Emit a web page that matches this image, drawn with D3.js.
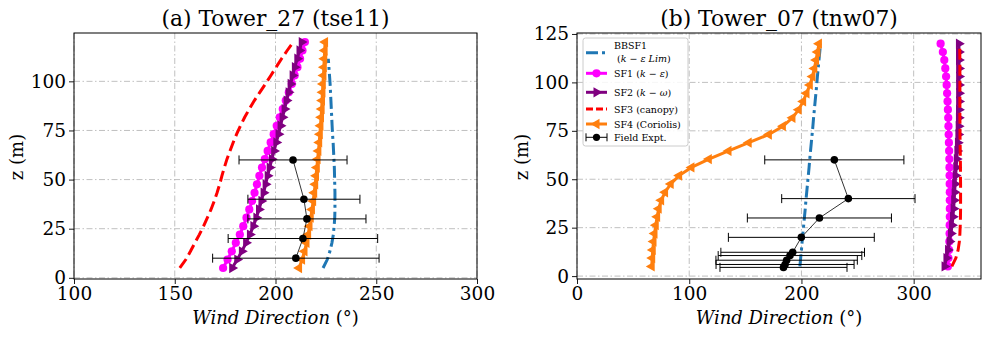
<!DOCTYPE html>
<html>
<head>
<meta charset="utf-8">
<script src="https://cdn.jsdelivr.net/npm/d3@7"></script>
<style>
body{margin:0;background:#fff}
svg text{font-family:"DejaVu Serif",serif !important;fill:#000}
</style>
</head>
<body>
<svg id="chart" width="990" height="337"></svg>
<script>
// heights of the model levels (m)
var zLevels = [5.0, 9.3, 13.5, 17.8, 22.0, 26.3, 30.6, 34.8, 39.1, 43.3, 47.6, 51.9, 56.1, 60.4,
  64.6, 68.9, 73.1, 77.4, 81.7, 85.9, 90.2, 94.4, 98.7, 103.0, 107.2, 111.5, 115.7, 120.0];

// (a) Tower_27 - wind direction (deg) per level
var aBBSF1 = [223.6, 225.7, 227.0, 228.0, 228.7, 229.1, 229.4, 229.5, 229.5, 229.5, 229.4, 229.3, 229.2, 229.0,
  228.8, 228.6, 228.3, 228.1, 227.9, 227.7, 227.5, 227.3, 227.1, 226.8, 226.5, 226.2];
var aSF1 = [174.0, 176.2, 178.3, 180.3, 182.3, 184.0, 185.6, 187.0, 188.4, 189.6, 190.8, 192.0, 193.3, 194.7,
  196.1, 197.6, 199.1, 200.6, 202.1, 203.6, 205.1, 206.6, 208.1, 209.5, 210.9, 212.2, 213.4, 214.6];
var aSF2 = [178.5, 181.0, 183.3, 185.4, 187.3, 189.0, 190.5, 191.8, 193.0, 194.1, 195.1, 196.1, 197.1, 198.2,
  199.3, 200.4, 201.5, 202.5, 203.5, 204.5, 205.5, 206.5, 207.5, 208.5, 209.6, 210.8, 211.9, 213.0];
var aSF3 = [152.5, 155.5, 157.8, 160.0, 162.2, 164.3, 166.2, 168.0, 169.6, 171.0, 172.3, 173.4, 174.6, 175.9,
  177.4, 179.0, 180.7, 182.6, 184.7, 187.0, 189.5, 192.2, 195.0, 197.7, 200.3, 203.0, 205.8, 208.8];
var aSF4 = [211.7, 213.2, 214.4, 215.4, 216.2, 216.9, 217.5, 218.1, 218.7, 219.2, 219.7, 220.1, 220.5, 220.9,
  221.3, 221.7, 222.0, 222.3, 222.6, 222.9, 223.1, 223.3, 223.5, 223.8, 224.0, 224.2, 224.4, 224.6];
var aFieldZ = [60, 40, 30, 20, 10];
var aFieldDir = [208.7, 214.1, 215.6, 213.6, 210.1];
var aFieldErr = [26.8, 27.8, 29.3, 37.1, 41.3];

// (b) Tower_07
var bBBSF1 = [198.6, 199.3, 200.0, 200.6, 201.3, 202.0, 202.7, 203.4, 204.0, 204.7, 205.4, 206.1, 206.8, 207.4,
  208.1, 208.8, 209.5, 210.2, 210.8, 211.5, 212.2, 212.9, 213.6, 214.2, 214.9, 215.6, 216.3, 217.0];
var bSF1 = [330.5, 331.0, 331.5, 331.8, 332.0, 332.1, 332.2, 332.2, 332.2, 332.2, 332.1, 332.0, 331.9, 331.8,
  331.6, 331.4, 331.2, 331.0, 330.8, 330.5, 330.2, 329.8, 329.4, 328.9, 328.2, 327.3, 326.0, 324.0];
var bSF2 = [327.5, 329.2, 330.6, 332.0, 333.2, 334.2, 335.0, 335.6, 336.1, 336.5, 336.9, 337.4, 337.9, 338.4,
  338.9, 339.4, 339.8, 340.1, 340.3, 340.4, 340.5, 340.5, 340.5, 340.5, 340.5, 340.4, 340.4, 340.3];
var bSF3 = [334.0, 337.6, 339.6, 340.7, 341.2, 341.5, 341.7, 341.8, 341.8, 341.8, 341.8, 341.7, 341.7, 341.6,
  341.5, 341.4, 341.3, 341.3, 341.2, 341.2, 341.2, 341.2, 341.2, 341.2, 341.2, 341.2, 341.1, 341.1];
var bSF4 = [66.6, 67.0, 67.5, 68.2, 69.1, 70.2, 71.4, 72.8, 75.0, 78.5, 83.5, 91.0, 102.0, 117.5,
  135.0, 153.0, 171.0, 183.5, 192.0, 197.5, 201.5, 204.5, 207.5, 209.8, 211.5, 213.0, 214.3, 215.6];
var bFieldZ = [60, 40, 30, 20, 12.3, 10.6, 8.2, 6.0, 4.5];
var bFieldDir = [229.3, 241.8, 216.0, 199.9, 192.2, 189.8, 186.8, 185.4, 184.0];
var bFieldErr = [62.0, 59.4, 64.2, 65.0, 64.0, 64.0, 63.0, 61.5, 56.6];

var aXTicks = [100, 150, 200, 250, 300];
var aYTicks = [0, 25, 50, 75, 100];
var bXTicks = [0, 100, 200, 300];
var bYTicks = [0, 25, 50, 75, 100, 125];

var seriesNames = ["BBSF1", "SF1", "SF2", "SF3", "SF4"];

var styles = {
  BBSF1: {color: "#1f77b4", dash: "12,4,3,4", marker: null},
  SF1: {color: "#ff00ff", dash: null, marker: "circle"},
  SF2: {color: "#800080", dash: null, marker: "right"},
  SF3: {color: "#ff0000", dash: "11,5", marker: null},
  SF4: {color: "#ff7f0e", dash: null, marker: "left"}
};

var svg = d3.select("#chart");
var plotTop = 33, plotBottom = 279;

function marker(g, type, x, y, color) {
  if (type == "circle") {
    g.append("circle").attr("cx", x).attr("cy", y).attr("r", 4.1).attr("fill", color);
  } else {
    g.append("path")
      .attr("d", d3.symbol().type(d3.symbolTriangle).size(46)())
      .attr("transform", "translate(" + x + "," + y + ") rotate(" + (type == "right" ? 90 : -90) + ")")
      .attr("fill", color);
  }
}

function drawPanel(p) {
  var x = d3.scaleLinear().domain(p.xDomain).range([p.left, p.right]);
  var y = d3.scaleLinear().domain(p.yDomain).range([plotBottom, plotTop]);
  var g = svg.append("g");

  // grid
  var grid = g.append("g").attr("stroke", "#b0b0b0").attr("stroke-width", 0.8)
    .attr("stroke-dasharray", "6,2.5,1.5,2.5");
  p.xTicks.forEach(function(t) {
    grid.append("line").attr("x1", x(t)).attr("x2", x(t)).attr("y1", plotTop).attr("y2", plotBottom);
  });
  p.yTicks.forEach(function(t) {
    grid.append("line").attr("x1", p.left).attr("x2", p.right).attr("y1", y(t)).attr("y2", y(t));
  });

  // model curves
  var line = d3.line().x(function(d) { return x(d[1]); }).y(function(d) { return y(d[0]); });
  seriesNames.forEach(function(name) {
    var st = styles[name];
    var pts = d3.zip(zLevels, p.series[name]);
    g.append("path").datum(pts).attr("d", line).attr("fill", "none")
      .attr("stroke", st.color).attr("stroke-width", 3)
      .attr("stroke-dasharray", st.dash);
    if (st.marker) {
      pts.forEach(function(d) { marker(g, st.marker, x(d[1]), y(d[0]), st.color); });
    }
  });

  // field measurements with horizontal error bars
  var fg = g.append("g");
  var fpts = d3.zip(p.fieldZ, p.fieldDir, p.fieldErr);
  fpts.forEach(function(d) {
    var yy = y(d[0]);
    fg.append("line").attr("x1", x(d[1] - d[2])).attr("x2", x(d[1] + d[2]))
      .attr("y1", yy).attr("y2", yy).attr("stroke", "#000").attr("stroke-width", 1);
    [d[1] - d[2], d[1] + d[2]].forEach(function(v) {
      fg.append("line").attr("x1", x(v)).attr("x2", x(v)).attr("y1", yy - 4.5).attr("y2", yy + 4.5)
        .attr("stroke", "#000").attr("stroke-width", 1);
    });
  });
  fg.append("path").datum(fpts)
    .attr("d", d3.line().x(function(d) { return x(d[1]); }).y(function(d) { return y(d[0]); }))
    .attr("fill", "none").attr("stroke", "#000").attr("stroke-width", 0.8);
  fpts.forEach(function(d) {
    fg.append("circle").attr("cx", x(d[1])).attr("cy", y(d[0])).attr("r", 3.8).attr("fill", "#000");
  });

  // axes
  var xAxis = g.append("g").attr("transform", "translate(0," + plotBottom + ")")
    .call(d3.axisBottom(x).tickValues(p.xTicks).tickSize(5).tickPadding(3).tickFormat(d3.format("d")));
  var yAxis = g.append("g").attr("transform", "translate(" + p.left + ",0)")
    .call(d3.axisLeft(y).tickValues(p.yTicks).tickSize(5).tickPadding(3).tickFormat(d3.format("d")));
  [xAxis, yAxis].forEach(function(a) {
    a.attr("font-family", null).attr("font-size", null);
    a.select(".domain").remove();
    a.selectAll("text").style("font-size", "18.5px").style("font-family", "'DejaVu Serif', serif");
    a.selectAll("line").attr("stroke-width", 0.9);
  });
  g.append("rect").attr("x", p.left).attr("y", plotTop).attr("width", p.right - p.left)
    .attr("height", plotBottom - plotTop).attr("fill", "none").attr("stroke", "#000").attr("stroke-width", 1);

  // labels
  var cx = (p.left + p.right) / 2;
  g.append("text").attr("x", cx).attr("y", 26).attr("text-anchor", "middle")
    .attr("font-size", 21.8).text(p.title);
  var xl = g.append("text").attr("x", cx).attr("y", 324).attr("text-anchor", "middle").attr("font-size", 18);
  xl.append("tspan").attr("font-style", "italic").text("Wind Direction ");
  xl.append("tspan").text("(°)");
  g.append("text").attr("transform", "translate(" + p.yLabelX + ",157) rotate(-90)")
    .attr("text-anchor", "middle").attr("font-size", 18).text("z (m)");
  return {x: x, y: y};
}

drawPanel({
  title: "(a) Tower_27 (tse11)", left: 74, right: 477, xDomain: [100, 300], yDomain: [-0.6, 124.6],
  xTicks: aXTicks, yTicks: aYTicks, yLabelX: 23,
  series: {BBSF1: aBBSF1, SF1: aSF1, SF2: aSF2, SF3: aSF3, SF4: aSF4},
  fieldZ: aFieldZ, fieldDir: aFieldDir, fieldErr: aFieldErr
});
drawPanel({
  title: "(b) Tower_07 (tnw07)", left: 577, right: 981, xDomain: [0, 360], yDomain: [-1.5, 125.5],
  xTicks: bXTicks, yTicks: bYTicks, yLabelX: 528,
  series: {BBSF1: bBBSF1, SF1: bSF1, SF2: bSF2, SF3: bSF3, SF4: bSF4},
  fieldZ: bFieldZ, fieldDir: bFieldDir, fieldErr: bFieldErr
});

// legend (panel b)
var lg = svg.append("g");
lg.append("rect").attr("x", 583).attr("y", 38).attr("width", 105).attr("height", 108).attr("rx", 2.5)
  .attr("fill", "#fff").attr("fill-opacity", 0.85).attr("stroke", "#cccccc").attr("stroke-width", 1);
var hx1 = 586, hx2 = 607, tx = 614, fs = 9.5;
var rows = [
  {name: "BBSF1", y: 52.7},
  {name: "SF1", y: 73.3, parts: [["SF1 (", ""], ["k", "i"], [" − ", ""], ["ε", "i"], [")", ""]]},
  {name: "SF2", y: 92.3, parts: [["SF2 (", ""], ["k", "i"], [" − ", ""], ["ω", "i"], [")", ""]]},
  {name: "SF3", y: 109, parts: [["SF3 (canopy)", ""]]},
  {name: "SF4", y: 124, parts: [["SF4 (Coriolis)", ""]]}
];
rows.forEach(function(r) {
  var st = styles[r.name];
  lg.append("line").attr("x1", hx1).attr("x2", hx2).attr("y1", r.y).attr("y2", r.y)
    .attr("stroke", st.color).attr("stroke-width", 3).attr("stroke-dasharray", r.name == "SF3" ? "7,3" : st.dash);
  if (st.marker) marker(lg, st.marker, (hx1 + hx2) / 2, r.y, st.color);
  if (r.parts) {
    var t = lg.append("text").attr("x", tx).attr("y", r.y + 3.5).attr("font-size", fs);
    r.parts.forEach(function(pp) {
      t.append("tspan").attr("font-style", pp[1] ? "italic" : null).text(pp[0]);
    });
  }
});
lg.append("text").attr("x", tx).attr("y", 48.5).attr("font-size", fs).text("BBSF1");
var t2 = lg.append("text").attr("x", tx + 3).attr("y", 62).attr("font-size", fs);
t2.append("tspan").text("(");
t2.append("tspan").attr("font-style", "italic").text("k");
t2.append("tspan").text(" − ");
t2.append("tspan").attr("font-style", "italic").text("ε Lim");
t2.append("tspan").text(")");
// field expt handle
var fy = 137.3;
lg.append("line").attr("x1", hx1).attr("x2", hx2).attr("y1", fy).attr("y2", fy).attr("stroke", "#000").attr("stroke-width", 1);
[hx1, hx2].forEach(function(v) {
  lg.append("line").attr("x1", v).attr("x2", v).attr("y1", fy - 4).attr("y2", fy + 4).attr("stroke", "#000");
});
lg.append("circle").attr("cx", (hx1 + hx2) / 2).attr("cy", fy).attr("r", 3.6).attr("fill", "#000");
lg.append("text").attr("x", tx).attr("y", fy + 3.5).attr("font-size", fs).text("Field Expt.");
</script>
</body>
</html>
